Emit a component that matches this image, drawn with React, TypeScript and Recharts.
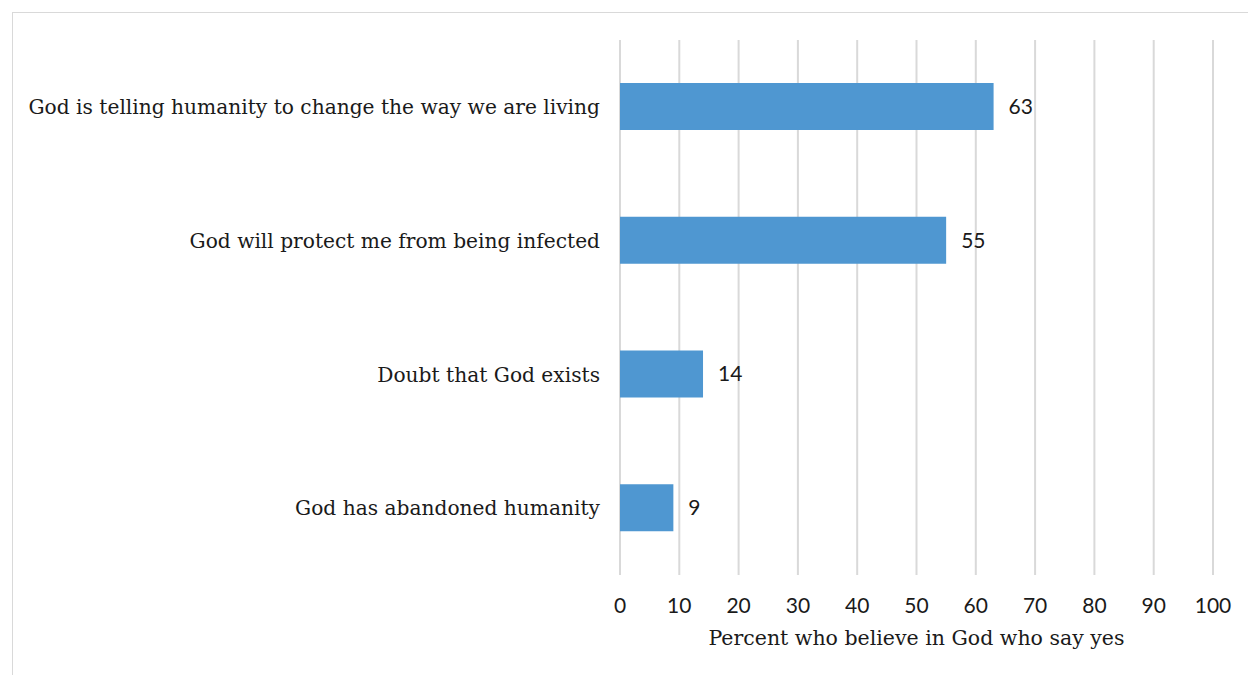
import React from 'react';
import { BarChart, Bar, XAxis, YAxis, CartesianGrid, LabelList } from 'recharts';

// survey answers, top to bottom
const statements = [
  'God is telling humanity to change the way we are living',
  'God will protect me from being infected',
  'Doubt that God exists',
  'God has abandoned humanity',
];
const percentYes = [63, 55, 14, 9];
const xTicks = [0, 10, 20, 30, 40, 50, 60, 70, 80, 90, 100];

const data = statements.map((statement, i) => ({ statement, value: percentYes[i] }));

const slab = '"DejaVu Serif", serif';
const numbers = 'Lato, "Open Sans", sans-serif';

const App: React.FC = () => {
  return (
    <div
      style={{
        position: 'fixed',
        top: 12,
        left: 12,
        right: 0,
        bottom: 0,
        overflow: 'hidden',
        borderTop: '1px solid #d9d9d9',
        borderLeft: '1px solid #d9d9d9',
        background: '#fff',
      }}
    >
      <BarChart
        width={1235}
        height={650}
        data={data}
        layout="vertical"
        barCategoryGap={0}
        margin={{ top: 27, right: 35, left: 0, bottom: 0 }}
      >
        <CartesianGrid horizontal={false} stroke="#d9d9d9" strokeWidth={2} />
        <XAxis
          type="number"
          domain={[0, 100]}
          ticks={xTicks}
          axisLine={false}
          tickLine={false}
          tickMargin={17}
          height={88}
          tick={{ fontSize: 21, fill: '#1a1a1a', fontFamily: numbers }}
          label={{
            value: 'Percent who believe in God who say yes',
            position: 'insideBottom',
            offset: 18,
            style: { fontSize: 20.5, fill: '#1a1a1a', fontFamily: slab },
          }}
        />
        <YAxis
          type="category"
          dataKey="statement"
          width={607}
          axisLine={false}
          tickLine={false}
          tickMargin={14}
          interval={0}
          tick={{ fontSize: 20.2, fill: '#1a1a1a', fontFamily: slab }}
        />
        <Bar dataKey="value" fill="#4f97d1" barSize={47} isAnimationActive={false}>
          <LabelList
            dataKey="value"
            position="right"
            offset={15}
            style={{ fontSize: 21, fill: '#1a1a1a', fontFamily: numbers }}
          />
        </Bar>
      </BarChart>
    </div>
  );
};

export default App;
